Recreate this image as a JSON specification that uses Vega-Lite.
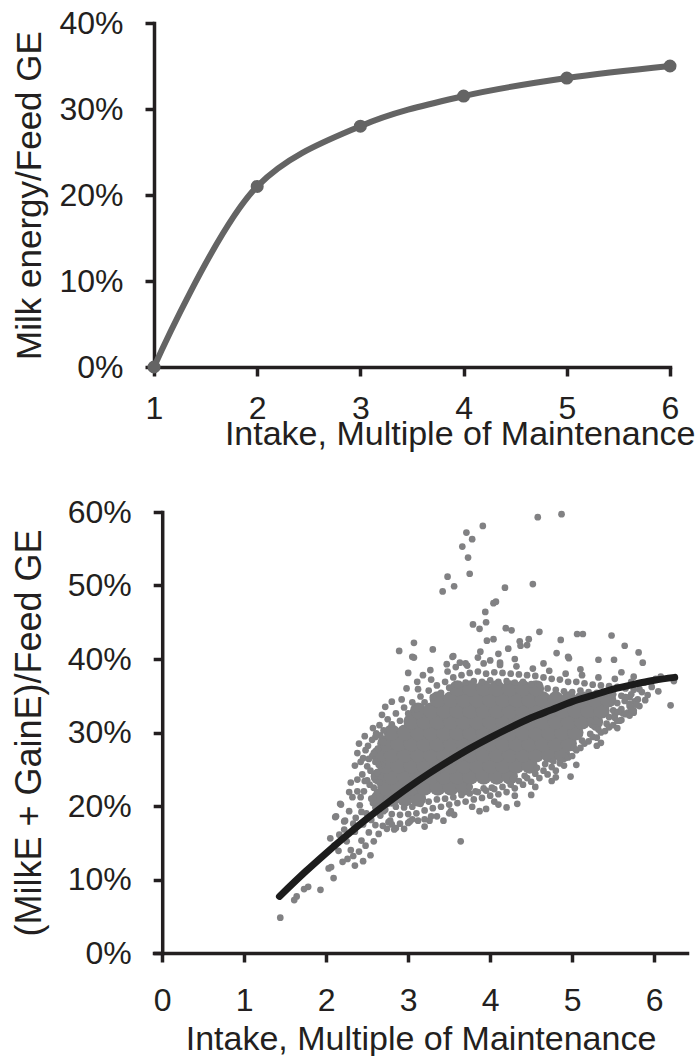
{
"$schema": "https://vega.github.io/schema/vega-lite/v6.json",
"padding": {"left": 11, "top": 7, "right": 0, "bottom": 0},
"background": "white",
"columns": 1,
"spacing": 45,
"config": {
  "view": {"stroke": null},
  "font": "Liberation Sans",
  "axis": {"grid": false, "domainColor": "#231f20", "domainWidth": 3.5, "domainCap": "square", "tickColor": "#231f20", "tickWidth": 3.5, "tickSize": 9, "labelFont": "Liberation Sans", "labelFontSize": 32, "labelColor": "#231f20", "titleFont": "Liberation Sans", "titleFontSize": 34, "titleFontWeight": "normal", "titleColor": "#231f20", "labelOverlap": false}
},
"datasets": {
  "milk": [{"x":1,"y":0},{"x":2,"y":21},{"x":3,"y":28},{"x":4,"y":31.5},{"x":5,"y":33.6},{"x":6,"y":35}],
  "fit": [{"x":1.43,"y":7.7},{"x":1.75,"y":11.1},{"x":2.0,"y":13.6},{"x":2.25,"y":16.0},{"x":2.5,"y":18.3},{"x":2.75,"y":20.45},{"x":3.0,"y":22.5},{"x":3.25,"y":24.4},{"x":3.5,"y":26.15},{"x":3.75,"y":27.8},{"x":4.0,"y":29.3},{"x":4.25,"y":30.7},{"x":4.5,"y":32.0},{"x":4.75,"y":33.1},{"x":5.0,"y":34.2},{"x":5.25,"y":35.05},{"x":5.5,"y":35.9},{"x":5.75,"y":36.55},{"x":6.0,"y":37.1},{"x":6.25,"y":37.5}],
  "core": [
{"x":2.64,"y":21},{"x":2.80,"y":21},{"x":2.96,"y":21},{"x":3.12,"y":21},
{"x":2.72,"y":22.5},{"x":2.88,"y":22.5},{"x":3.04,"y":22.5},{"x":3.20,"y":22.5},{"x":3.36,"y":22.5},{"x":3.52,"y":22.5},{"x":3.68,"y":22.5},
{"x":2.64,"y":24},{"x":2.80,"y":24},{"x":2.96,"y":24},{"x":3.12,"y":24},{"x":3.28,"y":24},{"x":3.44,"y":24},{"x":3.60,"y":24},{"x":3.76,"y":24},{"x":3.92,"y":24},{"x":4.08,"y":24},{"x":4.24,"y":24},
{"x":2.72,"y":25.5},{"x":2.88,"y":25.5},{"x":3.04,"y":25.5},{"x":3.20,"y":25.5},{"x":3.36,"y":25.5},{"x":3.52,"y":25.5},{"x":3.68,"y":25.5},{"x":3.84,"y":25.5},{"x":4.00,"y":25.5},{"x":4.16,"y":25.5},{"x":4.32,"y":25.5},{"x":4.48,"y":25.5},
{"x":2.64,"y":27},{"x":2.80,"y":27},{"x":2.96,"y":27},{"x":3.12,"y":27},{"x":3.28,"y":27},{"x":3.44,"y":27},{"x":3.60,"y":27},{"x":3.76,"y":27},{"x":3.92,"y":27},{"x":4.08,"y":27},{"x":4.24,"y":27},{"x":4.40,"y":27},{"x":4.56,"y":27},{"x":4.72,"y":27},{"x":4.88,"y":27},
{"x":2.72,"y":28.5},{"x":2.88,"y":28.5},{"x":3.04,"y":28.5},{"x":3.20,"y":28.5},{"x":3.36,"y":28.5},{"x":3.52,"y":28.5},{"x":3.68,"y":28.5},{"x":3.84,"y":28.5},{"x":4.00,"y":28.5},{"x":4.16,"y":28.5},{"x":4.32,"y":28.5},{"x":4.48,"y":28.5},{"x":4.64,"y":28.5},{"x":4.80,"y":28.5},{"x":4.96,"y":28.5},
{"x":2.80,"y":30},{"x":2.96,"y":30},{"x":3.12,"y":30},{"x":3.28,"y":30},{"x":3.44,"y":30},{"x":3.60,"y":30},{"x":3.76,"y":30},{"x":3.92,"y":30},{"x":4.08,"y":30},{"x":4.24,"y":30},{"x":4.40,"y":30},{"x":4.56,"y":30},{"x":4.72,"y":30},{"x":4.88,"y":30},{"x":5.04,"y":30},
{"x":3.04,"y":31.5},{"x":3.20,"y":31.5},{"x":3.36,"y":31.5},{"x":3.52,"y":31.5},{"x":3.68,"y":31.5},{"x":3.84,"y":31.5},{"x":4.00,"y":31.5},{"x":4.16,"y":31.5},{"x":4.32,"y":31.5},{"x":4.48,"y":31.5},{"x":4.64,"y":31.5},{"x":4.80,"y":31.5},{"x":4.96,"y":31.5},{"x":5.12,"y":31.5},{"x":5.28,"y":31.5},
{"x":3.12,"y":33},{"x":3.28,"y":33},{"x":3.44,"y":33},{"x":3.60,"y":33},{"x":3.76,"y":33},{"x":3.92,"y":33},{"x":4.08,"y":33},{"x":4.24,"y":33},{"x":4.40,"y":33},{"x":4.56,"y":33},{"x":4.72,"y":33},{"x":4.88,"y":33},{"x":5.04,"y":33},{"x":5.20,"y":33},{"x":5.36,"y":33},
{"x":3.36,"y":34.5},{"x":3.52,"y":34.5},{"x":3.68,"y":34.5},{"x":3.84,"y":34.5},{"x":4.00,"y":34.5},{"x":4.16,"y":34.5},{"x":4.32,"y":34.5},{"x":4.48,"y":34.5},{"x":4.64,"y":34.5},{"x":4.80,"y":34.5},{"x":4.96,"y":34.5},{"x":5.12,"y":34.5},{"x":5.28,"y":34.5},{"x":5.44,"y":34.5},
{"x":3.60,"y":36},{"x":3.76,"y":36},{"x":3.92,"y":36},{"x":4.08,"y":36},{"x":4.24,"y":36},{"x":4.40,"y":36},{"x":4.56,"y":36}
  ],
  "pts": [
{"x":2.60,"y":29.4},{"x":2.65,"y":31.0},{"x":2.70,"y":30.3},{"x":2.75,"y":31.8},{"x":2.80,"y":31.1},{"x":2.85,"y":32.6},{"x":2.90,"y":31.6},{"x":2.95,"y":33.4},{"x":3.00,"y":32.6},{"x":3.05,"y":34.1},{"x":3.10,"y":33.2},{"x":3.15,"y":34.9},{"x":3.20,"y":34.1},{"x":3.25,"y":35.7},{"x":3.30,"y":34.8},{"x":3.35,"y":36.4},{"x":3.40,"y":35.4},{"x":3.45,"y":36.9},{"x":3.50,"y":36.1},{"x":3.55,"y":37.5},{"x":3.60,"y":36.4},{"x":3.65,"y":37.8},{"x":3.70,"y":36.8},{"x":3.75,"y":38.1},{"x":3.80,"y":37.0},{"x":3.85,"y":38.3},{"x":3.90,"y":36.9},{"x":3.95,"y":38.0},{"x":4.00,"y":37.1},{"x":4.05,"y":38.2},{"x":4.10,"y":36.9},{"x":4.15,"y":38.1},{"x":4.20,"y":37.0},{"x":4.25,"y":38.0},{"x":4.30,"y":36.8},{"x":4.35,"y":37.9},{"x":4.40,"y":36.9},{"x":4.45,"y":37.8},{"x":4.50,"y":36.6},{"x":4.55,"y":37.7},{"x":4.60,"y":36.5},{"x":4.65,"y":37.5},{"x":4.70,"y":36.0},{"x":4.75,"y":37.3},{"x":4.80,"y":35.8},{"x":4.85,"y":37.2},{"x":4.90,"y":35.6},{"x":4.95,"y":36.9},{"x":5.00,"y":35.5},{"x":5.05,"y":36.9},{"x":5.10,"y":35.7},{"x":5.15,"y":36.7},{"x":5.20,"y":35.5},{"x":5.25,"y":36.5},{"x":5.30,"y":35.4},{"x":5.35,"y":36.4},{"x":5.40,"y":35.3},{"x":5.45,"y":36.3},{"x":5.50,"y":35.2},{"x":5.55,"y":36.2},{"x":5.60,"y":35.0},{"x":5.65,"y":36.0},{"x":5.70,"y":34.8},{"x":5.75,"y":35.8},{"x":5.80,"y":34.5},{"x":5.85,"y":35.5},
{"x":2.68,"y":32.4},{"x":2.92,"y":34.5},{"x":3.12,"y":35.9},{"x":3.28,"y":37.2},{"x":3.48,"y":38.3},{"x":3.58,"y":38.9},{"x":3.72,"y":39.1},{"x":3.92,"y":39.4},{"x":4.12,"y":39.2},{"x":4.32,"y":39.0},{"x":4.52,"y":38.7},{"x":4.72,"y":38.4},{"x":4.92,"y":38.0},{"x":5.12,"y":37.8},{"x":5.32,"y":37.5},{"x":5.52,"y":37.3},{"x":5.72,"y":36.9},
{"x":2.89,"y":41.1},{"x":3.07,"y":42.2},{"x":3.30,"y":41.3},{"x":3.07,"y":40.2},{"x":3.54,"y":40.3},{"x":4.10,"y":40.7},{"x":4.22,"y":41.4},{"x":4.47,"y":42.7},{"x":4.37,"y":41.8},{"x":3.00,"y":38.1},{"x":3.11,"y":36.9},{"x":3.27,"y":38.5},{"x":3.47,"y":39.3},{"x":3.63,"y":39.5},{"x":4.81,"y":40.8},{"x":4.96,"y":40.1},{"x":5.32,"y":39.9},{"x":3.96,"y":42.5},{"x":4.04,"y":42.7},{"x":4.86,"y":42.6},{"x":5.06,"y":43.4},{"x":5.13,"y":43.4},{"x":5.48,"y":43.2},{"x":4.60,"y":43.7},{"x":4.19,"y":44.2},{"x":4.26,"y":43.9},{"x":3.79,"y":44.7},{"x":3.87,"y":44.1},{"x":3.95,"y":45.0},{"x":4.04,"y":47.6},{"x":4.07,"y":47.8},{"x":3.94,"y":46.4},{"x":3.42,"y":49.2},{"x":3.56,"y":49.9},{"x":3.48,"y":51.2},{"x":3.75,"y":51.6},{"x":4.18,"y":49.7},{"x":4.52,"y":50.2},{"x":3.73,"y":53.8},{"x":3.66,"y":55.3},{"x":3.78,"y":56.3},{"x":3.71,"y":57.2},{"x":3.91,"y":58.1},{"x":4.58,"y":59.3},{"x":4.87,"y":59.7},{"x":5.64,"y":41.8},{"x":5.81,"y":40.9},{"x":5.51,"y":39.9},{"x":5.86,"y":39.5},{"x":4.95,"y":40.3},{"x":3.70,"y":39.4},{"x":3.55,"y":40.4},{"x":3.05,"y":40.3},{"x":4.12,"y":39.5},{"x":4.36,"y":42.4},{"x":4.45,"y":41.9},{"x":3.88,"y":41.0},{"x":4.30,"y":40.0},{"x":4.65,"y":39.4},{"x":3.85,"y":40.2},{"x":4.00,"y":39.8},{"x":5.10,"y":38.6},{"x":5.60,"y":38.2},{"x":5.75,"y":37.6},{"x":5.95,"y":36.9},{"x":6.05,"y":35.6},{"x":6.24,"y":37.0},{"x":6.20,"y":33.7},{"x":5.89,"y":34.4},{"x":3.18,"y":37.8},{"x":2.98,"y":36.0},{"x":2.80,"y":34.2},{"x":2.72,"y":33.5},
{"x":5.55,"y":34.0},{"x":5.60,"y":33.2},{"x":5.65,"y":34.8},{"x":5.70,"y":33.9},{"x":5.72,"y":35.2},{"x":5.78,"y":34.3},{"x":5.82,"y":35.9},{"x":5.88,"y":36.8},{"x":5.92,"y":35.1},{"x":5.97,"y":36.2},{"x":6.02,"y":37.3},{"x":5.52,"y":32.5},{"x":5.58,"y":31.6},{"x":5.62,"y":32.6},{"x":5.64,"y":34.3},{"x":5.76,"y":34.2},{"x":5.82,"y":33.6},{"x":5.68,"y":32.7},{"x":5.75,"y":32.7},{"x":5.45,"y":32.1},{"x":5.28,"y":30.7},{"x":5.22,"y":31.6},{"x":5.70,"y":33.6},{"x":6.08,"y":37.6},
{"x":2.60,"y":19.8},{"x":2.65,"y":20.8},{"x":2.70,"y":19.3},{"x":2.75,"y":20.3},{"x":2.80,"y":18.9},{"x":2.85,"y":19.9},{"x":2.90,"y":18.8},{"x":2.95,"y":19.8},{"x":3.00,"y":18.9},{"x":3.05,"y":19.9},{"x":3.10,"y":19.0},{"x":3.15,"y":20.3},{"x":3.20,"y":19.4},{"x":3.25,"y":20.6},{"x":3.30,"y":19.7},{"x":3.35,"y":20.9},{"x":3.40,"y":19.9},{"x":3.45,"y":21.0},{"x":3.50,"y":20.2},{"x":3.55,"y":21.2},{"x":3.60,"y":20.4},{"x":3.65,"y":21.5},{"x":3.70,"y":20.6},{"x":3.75,"y":21.7},{"x":3.75,"y":22.6},{"x":3.80,"y":20.9},{"x":3.82,"y":22.0},{"x":3.85,"y":21.9},{"x":3.90,"y":21.1},{"x":3.92,"y":22.4},{"x":3.95,"y":22.1},{"x":4.00,"y":21.4},{"x":4.02,"y":22.5},{"x":4.05,"y":22.3},{"x":4.10,"y":21.6},{"x":4.15,"y":22.6},{"x":4.20,"y":21.9},{"x":4.25,"y":22.9},{"x":4.28,"y":23.8},{"x":4.30,"y":22.4},{"x":4.35,"y":23.4},{"x":4.40,"y":22.9},{"x":4.42,"y":24.1},{"x":4.45,"y":23.8},{"x":4.50,"y":23.3},{"x":4.55,"y":24.4},{"x":4.57,"y":25.2},{"x":4.60,"y":23.8},{"x":4.65,"y":24.8},{"x":4.67,"y":25.7},{"x":4.70,"y":24.3},{"x":4.75,"y":25.3},{"x":4.77,"y":26.1},{"x":4.80,"y":24.8},{"x":4.85,"y":25.8},{"x":4.90,"y":25.5},{"x":4.92,"y":26.8},{"x":4.95,"y":26.6},{"x":5.00,"y":26.8},{"x":5.02,"y":27.9},{"x":5.05,"y":27.6},{"x":5.10,"y":27.9},{"x":5.12,"y":28.9},{"x":5.15,"y":28.5},{"x":5.20,"y":28.8},{"x":5.22,"y":29.8},{"x":5.25,"y":29.4},{"x":5.30,"y":29.3},{"x":5.32,"y":30.4},{"x":5.35,"y":30.0},{"x":5.40,"y":30.2},{"x":5.42,"y":31.2},{"x":5.45,"y":30.7},{"x":5.50,"y":31.0},{"x":5.52,"y":32.0},{"x":5.50,"y":33.0},{"x":5.56,"y":32.8},{"x":5.55,"y":31.6},{"x":5.60,"y":31.7},{"x":5.65,"y":32.5},{"x":5.70,"y":32.3},{"x":5.72,"y":33.3},{"x":5.75,"y":33.0},{"x":5.78,"y":33.8},
{"x":2.78,"y":18.0},{"x":3.02,"y":17.9},{"x":3.28,"y":18.6},{"x":3.52,"y":19.3},{"x":3.78,"y":19.9},{"x":4.05,"y":20.6},{"x":4.30,"y":21.4},{"x":4.55,"y":22.6},{"x":4.80,"y":23.9},{"x":5.05,"y":25.6},{"x":5.30,"y":28.2},{"x":5.55,"y":30.6},
{"x":2.12,"y":18.6},{"x":2.16,"y":16.1},{"x":2.18,"y":20.2},{"x":2.22,"y":17.9},{"x":2.25,"y":15.2},{"x":2.28,"y":19.3},{"x":2.30,"y":14.0},{"x":2.32,"y":21.2},{"x":2.33,"y":13.2},{"x":2.35,"y":16.5},{"x":2.36,"y":18.4},{"x":2.38,"y":23.6},{"x":2.38,"y":27.2},{"x":2.40,"y":13.8},{"x":2.41,"y":20.1},{"x":2.42,"y":26.0},{"x":2.43,"y":15.3},{"x":2.44,"y":24.3},{"x":2.45,"y":17.5},{"x":2.46,"y":22.0},{"x":2.47,"y":29.5},{"x":2.48,"y":14.6},{"x":2.49,"y":19.0},{"x":2.50,"y":25.4},{"x":2.51,"y":28.2},{"x":2.52,"y":16.4},{"x":2.53,"y":22.9},{"x":2.54,"y":13.3},{"x":2.55,"y":18.1},{"x":2.56,"y":26.8},{"x":2.57,"y":20.4},{"x":2.58,"y":15.2},{"x":2.59,"y":24.0},{"x":2.60,"y":17.4},{"x":2.61,"y":29.9},{"x":2.62,"y":21.9},{"x":2.63,"y":27.8},{"x":2.64,"y":16.2},{"x":2.65,"y":23.2},{"x":2.66,"y":18.7},{"x":2.68,"y":25.6},{"x":2.69,"y":17.3},{"x":2.70,"y":28.7},{"x":2.72,"y":19.5},{"x":2.74,"y":16.9},{"x":2.76,"y":17.8},{"x":2.80,"y":17.5},{"x":2.85,"y":17.0},{"x":2.90,"y":17.6},{"x":2.95,"y":16.9},{"x":3.00,"y":17.7},{"x":3.05,"y":18.2},{"x":3.12,"y":18.0},{"x":3.20,"y":18.2},{"x":3.26,"y":18.0},{"x":3.43,"y":18.0},{"x":3.56,"y":18.8},{"x":3.64,"y":15.2},{"x":2.83,"y":16.8},{"x":3.35,"y":18.6},{"x":3.50,"y":19.0},{"x":2.55,"y":21.0},{"x":2.58,"y":22.5},{"x":2.50,"y":23.5},{"x":2.45,"y":26.5},{"x":2.56,"y":29.0},{"x":2.60,"y":26.0},{"x":2.62,"y":24.5},{"x":2.40,"y":28.5},{"x":2.35,"y":25.5},
{"x":2.42,"y":21.2},{"x":2.47,"y":23.4},{"x":2.52,"y":26.4},{"x":2.48,"y":27.6},{"x":2.58,"y":27.2},{"x":2.54,"y":24.8},{"x":2.38,"y":22.0},{"x":2.43,"y":19.2},{"x":2.30,"y":23.2},{"x":2.33,"y":17.6},{"x":2.57,"y":30.6},{"x":2.66,"y":29.6},{"x":2.64,"y":25.6},{"x":2.28,"y":21.9},
{"x":2.09,"y":10.2},{"x":2.03,"y":11.5},{"x":2.06,"y":11.7},{"x":2.20,"y":12.4},{"x":1.93,"y":8.6},{"x":1.78,"y":9.0},{"x":1.73,"y":8.7},{"x":1.64,"y":7.7},{"x":1.61,"y":7.2},{"x":1.44,"y":4.8},{"x":2.15,"y":13.9},{"x":2.26,"y":12.8},{"x":2.10,"y":14.6},{"x":2.45,"y":12.5},{"x":2.35,"y":11.9},{"x":2.22,"y":16.8},{"x":2.05,"y":15.6},{"x":2.17,"y":20.3},{"x":2.11,"y":18.5},{"x":2.23,"y":18.0},
{"x":3.87,"y":19.3},{"x":4.33,"y":20.3},{"x":4.98,"y":24.0},{"x":4.10,"y":20.2},{"x":4.50,"y":21.5},{"x":4.75,"y":23.4},{"x":4.20,"y":19.8},{"x":5.35,"y":28.6},{"x":3.20,"y":17.2},{"x":3.95,"y":19.6}
  ]
},
"concat": [
  {
    "width": 516,
    "height": 344,
    "data": {"name": "milk"},
    "encoding": {
      "x": {"field": "x", "type": "quantitative", "scale": {"domain": [1, 6], "nice": false, "zero": false},
        "axis": {"values": [1, 2, 3, 4, 5, 6], "labelPadding": 17, "labelFlush": false, "title": "Intake, Multiple of Maintenance", "titleAlign": "right", "titleX": 541, "titleY": 77, "titleBaseline": "alphabetic"}},
      "y": {"field": "y", "type": "quantitative", "scale": {"domain": [0, 40], "nice": false},
        "axis": {"values": [0, 10, 20, 30, 40], "labelExpr": "datum.value + '%'", "labelPadding": 22, "title": "Milk energy/Feed GE", "titleFontSize": 35, "titleX": -114, "titleY": 172, "titleAngle": 270, "titleAlign": "center", "titleBaseline": "alphabetic"}}
    },
    "layer": [
      {"mark": {"type": "line", "color": "#646464", "strokeWidth": 6, "interpolate": "catmull-rom"}, "encoding": {}},
      {"mark": {"type": "circle", "color": "#646464", "size": 170, "opacity": 1}, "encoding": {}}
    ]
  },
  {
    "width": 533,
    "height": 441,
    "encoding": {
      "x": {"field": "x", "type": "quantitative", "scale": {"domain": [-0.1, 6.4], "nice": false, "zero": false},
        "axis": {"values": [0, 1, 2, 3, 4, 5, 6], "labelPadding": 23, "labelFlush": false, "title": "Intake, Multiple of Maintenance", "titleY": 96, "titleBaseline": "alphabetic"}},
      "y": {"field": "y", "type": "quantitative", "scale": {"domain": [0, 60], "nice": false},
        "axis": {"offset": -8.2, "values": [0, 10, 20, 30, 40, 50, 60], "labelExpr": "datum.value + '%'", "labelPadding": 22, "title": "(MilkE + GainE)/Feed GE", "titleFontSize": 36, "titleX": -122, "titleY": 220.5, "titleAngle": 270, "titleAlign": "center", "titleBaseline": "alphabetic"}}
    },
    "layer": [
      {"data": {"name": "core"}, "mark": {"type": "circle", "size": 260, "color": "#818183", "opacity": 1}, "encoding": {}},
      {"data": {"name": "pts"}, "mark": {"type": "circle", "size": 45, "color": "#818183", "opacity": 1}, "encoding": {}},
      {"data": {"name": "fit"}, "mark": {"type": "line", "color": "#1c1c1c", "strokeWidth": 7, "strokeCap": "round", "interpolate": "monotone"}, "encoding": {}}
    ]
  }
]
}
